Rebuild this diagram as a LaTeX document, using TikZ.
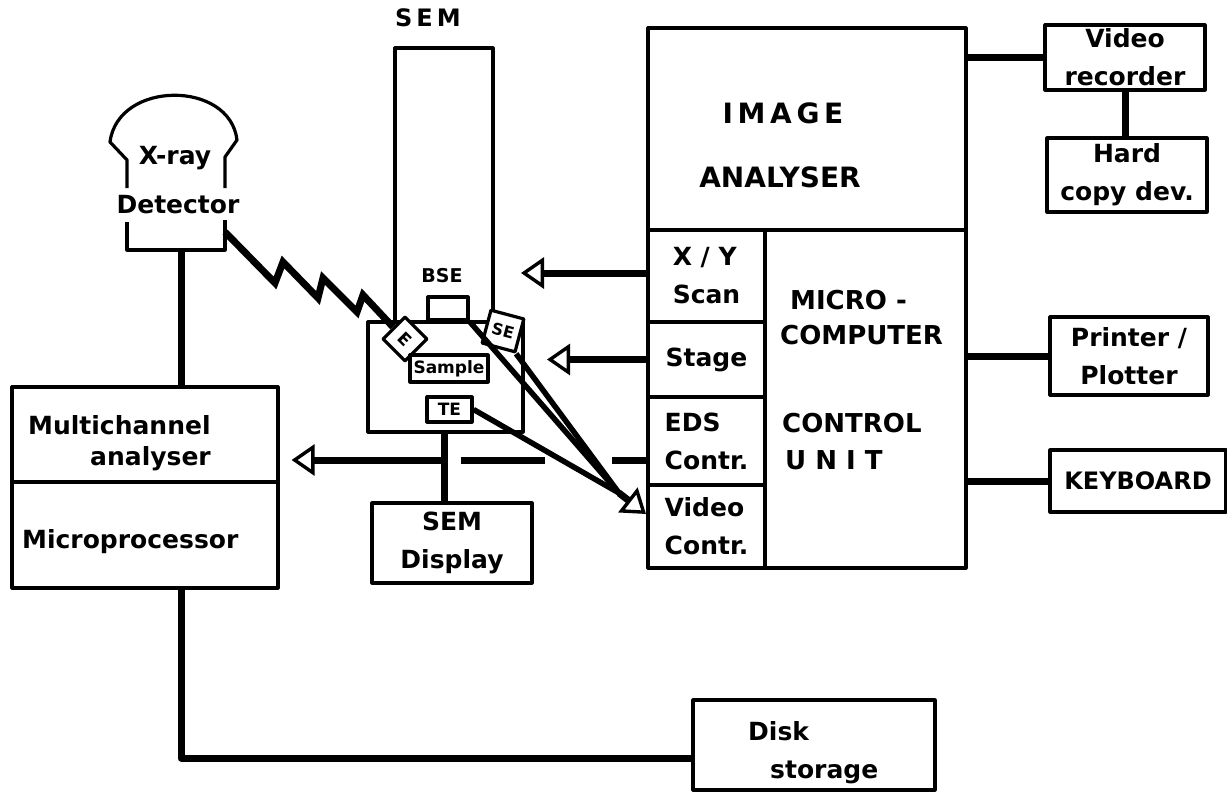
\documentclass[tikz,border=0pt]{standalone}
\usepackage{fontspec}
\setmainfont{DejaVu Sans}
\usetikzlibrary{arrows.meta,calc}
\begin{document}
\begin{tikzpicture}[x=1pt,y=-1pt,
  box/.style={draw, line width=3.2pt, inner sep=0pt, line join=round},
  conn/.style={line width=7pt},
  lbl/.style={inner sep=0pt, font=\bfseries\fontsize{25}{38}\selectfont},
  caps/.style={inner sep=0pt, font=\bfseries\fontsize{26}{38}\selectfont},
  small/.style={inner sep=0pt, font=\bfseries\fontsize{17}{20}\selectfont},
  oarrow/.style={-{Triangle[open,length=23pt,width=31pt,line width=3.4pt]}}
]
\useasboundingbox (0,0) rectangle (1227,803);

% ---------- SEM ----------
\node[inner sep=0pt, font=\bfseries\fontsize{24}{28}\selectfont] (semlbl) at (428,18) {S\,E\,M};
\node[box, minimum width=98pt, minimum height=274pt] (semcol) at (444,185) {};
\node[box, fill=white, minimum width=155pt, minimum height=110pt] (chamber) at (445.5,377) {};
\node[small, font=\bfseries\fontsize{19}{22}\selectfont] (bselbl) at (442,276) {BSE};
\node[box, minimum width=40pt, minimum height=23pt] (bse) at (448,308.5) {};
\node[box, fill=white, minimum width=31pt, minimum height=31pt, rotate=45] (xwin) at (405,339) {};
\node[small, rotate=-45] (xwintxt) at (405,339) {E};
\node[box, fill=white, minimum width=34pt, minimum height=34pt, rotate=-15,
      font=\bfseries\fontsize{16}{18}\selectfont] (se) at (503,331) {SE};
\node[box, small, minimum width=78pt, minimum height=27pt] (sample) at (449,368.5) {Sample};
\node[box, small, minimum width=45pt, minimum height=25pt] (te) at (449.5,409.5) {TE};
\node[box, lbl, align=center, minimum width=160pt, minimum height=80pt] (semdisp) at (452,543) {SEM\\Display};

% ---------- X-ray detector ----------
\draw[line width=3.2pt, line join=round] (127,222) -- (127,250) -- (225,250) -- (225,220);
\draw[line width=3.2pt, line join=round] (127,188) -- (127,160) -- (110,142)
   .. controls (118,80) and (230,80) .. (237,140) -- (225,157) -- (225,188);
\node[lbl] (xray) at (175,158) {X-ray};
\node[lbl] (det) at (178,205) {Detector};
\coordinate (xdbot) at (181,250);
\coordinate (zz0) at (225,232);

% ---------- Multichannel analyser ----------
\node[box, minimum width=266pt, minimum height=95pt] (mcaup) at (145,434.5) {};
\node[box, minimum width=266pt, minimum height=106pt] (mcalo) at (145,535) {};
\node[lbl, anchor=west] (mcat1) at (28,425) {Multichannel};
\node[lbl, anchor=west] (mcat2) at (90,459) {analyser};
\node[lbl, anchor=west] (mpt) at (22,542) {Microprocessor};

% ---------- Image analyser / control unit ----------
\node[box, minimum width=318pt, minimum height=202pt] (ia) at (807,129) {};
\node[caps, font=\bfseries\fontsize{28}{38}\selectfont] (iat1) at (783,113) {I\,M\,A\,G\,E};
\node[caps, font=\bfseries\fontsize{28}{38}\selectfont] (iat2) at (780,177) {ANALYSER};
\node[box, lbl, align=left, minimum width=117pt, minimum height=92pt] (xy) at (706.5,276) {X / Y\\Scan};
\node[box, lbl, minimum width=117pt, minimum height=75pt] (stage) at (706.5,359.5) {Stage};
\node[box, lbl, align=left, minimum width=117pt, minimum height=88pt] (eds) at (706.5,441) {EDS\\Contr.};
\node[box, lbl, align=left, minimum width=117pt, minimum height=83pt] (vid) at (706.5,526.5) {Video\\Contr.};
\node[box, minimum width=201pt, minimum height=338pt] (mc) at (865.5,399) {};
\node[caps, anchor=west] (mct1) at (790,300) {MICRO -};
\node[caps, anchor=west] (mct2) at (780,335) {COMPUTER};
\node[caps, anchor=west] (mct3) at (782,423) {CONTROL};
\node[caps, anchor=west] (mct4) at (785,460) {U N I T};

% ---------- peripherals ----------
\node[box, lbl, align=center, minimum width=160pt, minimum height=65pt] (vr) at (1125,57.5) {Video\\recorder};
\node[box, lbl, align=center, minimum width=160pt, minimum height=74pt] (hc) at (1127,175) {Hard\\copy dev.};
\node[box, lbl, align=center, minimum width=158pt, minimum height=78pt] (pp) at (1129,356) {Printer /\\Plotter};
\node[box, lbl, font=\bfseries\fontsize{24}{30}\selectfont, minimum width=176pt, minimum height=62pt] (kb) at (1138,481) {KEYBOARD};
\node[box, minimum width=242pt, minimum height=90pt] (disk) at (814,745) {};
\node[lbl, anchor=west] (diskt1) at (748,731) {Disk};
\node[lbl, anchor=west] (diskt2) at (770,772) {storage};

% ---------- connectors ----------
\draw[conn] (vr.west) -- (vr.west -| ia.east);
\draw[conn] (vr.south) -- (vr.south |- hc.north);
\draw[conn] (pp.west) -- (pp.west -| mc.east);
\draw[conn] (kb.west) -- (kb.west -| mc.east);
\draw[conn] (semcol.south |- chamber.south) -- (semcol.south |- semdisp.north);
\draw[conn] (xdbot) -- (xdbot |- mcaup.north);
\draw[conn, line join=round] (mcalo.south -| xdbot) -- (181,758) -- (181,758 -| disk.west);

% arrows from control unit to SEM
\coordinate (xytip) at (521,273);
\draw[conn, oarrow] (xy.west |- xytip) -- (xytip);
\coordinate (sttip) at (547,359.5);
\draw[conn, oarrow] (stage.west) -- (sttip);

% EDS -> multichannel analyser (broken where lines cross)
\coordinate (edsout) at ([yshift=-19pt]eds.west);
\coordinate (mcatip) at ([xshift=12pt]mcaup.east |- edsout);
\coordinate (g1) at (edsout -| 612,0);
\coordinate (g2) at (edsout -| 545,0);
\coordinate (g3) at (edsout -| 461,0);
\coordinate (g4) at (edsout -| 442,0);
\draw[conn] (edsout) -- (g1);
\draw[conn] (g2) -- (g3);
\draw[conn, oarrow] (g4) -- (mcatip);

% X-ray zigzag
\draw[conn, line join=miter] (zz0) -- (275,283) -- (283,262) -- (318,298) -- (323,278)
   -- (357,312) -- (363,295) -- (xwin.north);

% detector signals to video controller
\coordinate (conv) at (619,493);
\coordinate (vidtip) at (646,514);
\draw[line width=5.5pt] (bse.south east) -- (conv);
\draw[line width=5.5pt] (se.south east) -- (conv);
\draw[line width=5.5pt] (te.east) -- (conv);
\draw[conn, oarrow] (conv) -- (vidtip);
\end{tikzpicture}
\end{document}
